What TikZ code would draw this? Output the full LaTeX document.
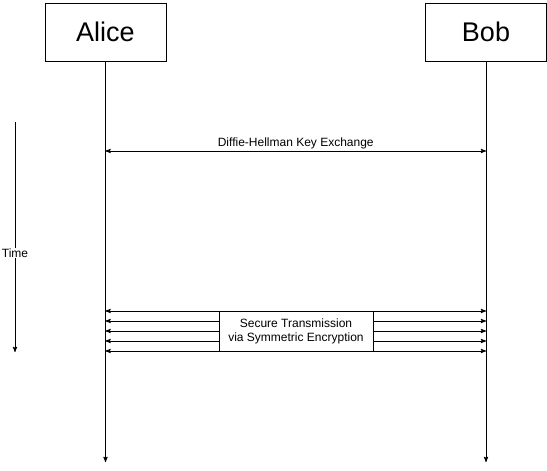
\documentclass[tikz,border=0pt]{standalone}
\usepackage{fontspec}
\setmainfont{Liberation Sans}
\usetikzlibrary{arrows}
\tikzstyle{actor}=[rectangle,draw,fill=white,minimum width=121pt,minimum height=58pt,font=\fontsize{27}{30}\selectfont]
\tikzstyle{label}=[fill=white,inner sep=1pt,font=\fontsize{12}{14}\selectfont]
\tikzstyle{msgbox}=[rectangle,draw,fill=white,minimum width=154pt,minimum height=40pt,align=center,font=\fontsize{12}{14}\selectfont]
\tikzstyle{arrow}=[draw,-stealth']
\tikzstyle{twoway}=[draw,stealth'-stealth']

\begin{document}
\begin{tikzpicture}[x=1pt,y=-1pt,line width=0.9pt]
		\useasboundingbox (0,0) rectangle (547,471);
		\node (alice) [actor] at (105.5,32) {Alice};
		\node (bob) [actor] at (486,32) {Bob};
		\coordinate (aliceend) at (105.5,462);
		\coordinate (bobend) at (486,462);
		
		% time axis
		\coordinate (tstart) at (15,122);
		\coordinate (tend) at (15,352);
		\draw[arrow] (tstart) -- (tend);
		\node (time) [label] at (15,253) {Time};
		
		\draw[arrow] (alice) -- (aliceend);
		\draw[arrow] (bob) -- (bobend);
		
		% key exchange
		\coordinate (dha) at (105.5,151);
		\coordinate (dhb) at (486,151);
		\draw[twoway] (dha) -- node[above,font=\fontsize{12}{14}\selectfont,inner sep=2pt] {Diffie-Hellman Key Exchange} (dhb);
		
		% symmetric channel
		\coordinate (sa1) at (105.5,311);
		\coordinate (sb1) at (486,311);
		\coordinate (sa5) at (105.5,351);
		\coordinate (sb5) at (486,351);
		\draw[twoway] (sa1) -- (sb1);
		\draw[twoway] (sa5) -- (sb5);
		\node (sec) [msgbox] at (296,331) {Secure Transmission\\via Symmetric Encryption};
		\foreach \y in {321,331,341} {
			\draw[arrow] (sec.west |- 0,\y) -- (105.5,\y);
			\draw[arrow] (sec.east |- 0,\y) -- (486,\y);
		}
		
		\end{tikzpicture}
\end{document}
